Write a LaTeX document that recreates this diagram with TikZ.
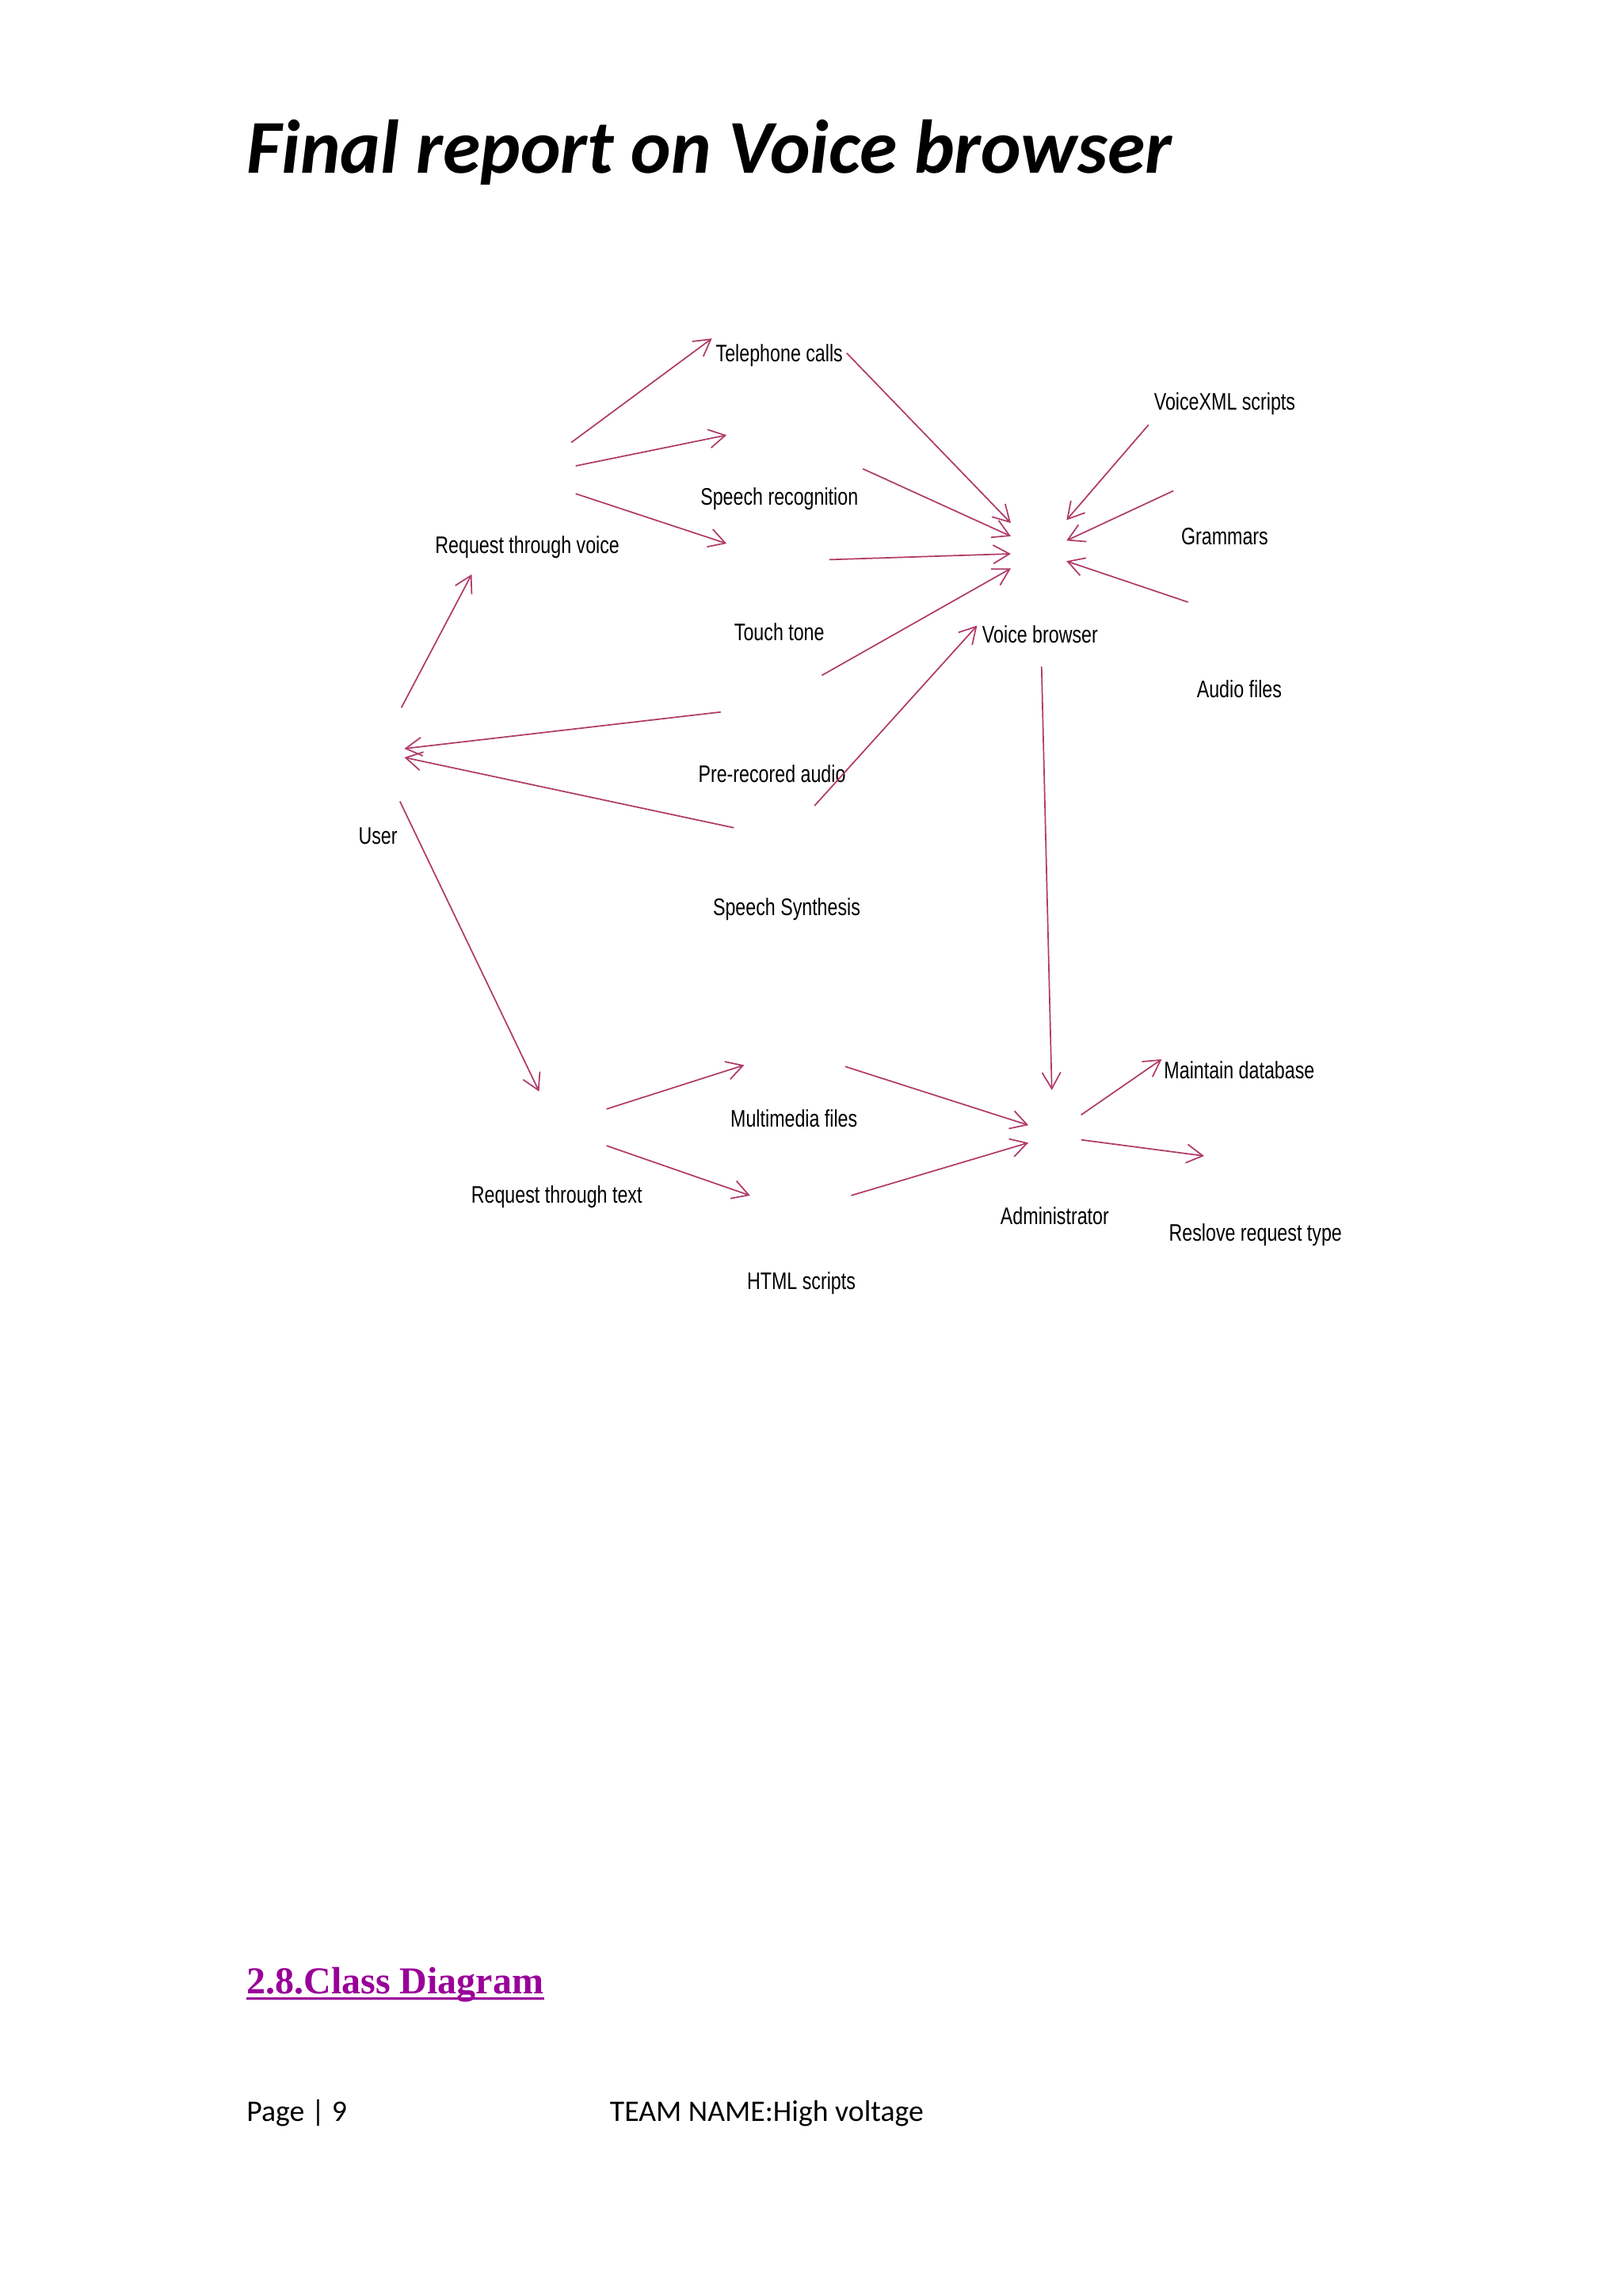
\documentclass[tikz,border=0pt]{standalone}
\usepackage{fontspec}
\usetikzlibrary{arrows.meta}
\newfontfamily\labelfont[FakeStretch=0.77]{Liberation Sans}
\newfontfamily\pagefont{Carlito}
\newfontfamily\headfont{Liberation Serif}
\definecolor{flowred}{RGB}{176,58,104}
\definecolor{headpurple}{RGB}{153,0,153}
\tikzset{
  lbl/.style={inner sep=0pt, anchor=base, font=\labelfont\fontsize{8.8}{10}\selectfont},
  flow/.style={draw=flowred, line width=0.5pt, -{Straight Barb[length=2.1mm, width=2.4mm]}},
}

\begin{document}
\begin{tikzpicture}[x=0.018948cm, y=-0.018948cm]
  \fill[white] (0,0) rectangle (21cm,-29.7cm);
  \useasboundingbox (0,0) rectangle (21cm,-29.7cm);

  % page texts
  \node[inner sep=0pt, anchor=base west, font=\pagefont\bfseries\itshape\fontsize{28}{32}\selectfont] (title) at (168,118) {Final report on Voice browser};
  \node[inner sep=0pt, anchor=base west, text=headpurple, font=\headfont\bfseries\fontsize{14}{16}\selectfont] (head) at (168,1361) {2.8.Class Diagram};
  \draw[headpurple, line width=1pt] ([yshift=-1.6pt]head.base west) -- ([yshift=-1.6pt]head.base east);
  \node[inner sep=0pt, anchor=base west, font=\pagefont\fontsize{11}{13}\selectfont] (page) at (168,1448) {Page | 9};
  \node[inner sep=0pt, anchor=base west, font=\pagefont\fontsize{11}{13}\selectfont] (team) at (416,1448) {TEAM NAME:High voltage};

  % labels
  \node[lbl] (tel) at (532,247) {Telephone calls};
  \node[lbl] (vxml) at (836,280) {VoiceXML scripts};
  \node[lbl] (sprec) at (532,345) {Speech recognition};
  \node[lbl] (rtv) at (360,378) {Request through voice};
  \node[lbl] (gram) at (836,372) {Grammars};
  \node[lbl] (touch) at (532,437) {Touch tone};
  \node[lbl] (vb) at (710,439) {Voice browser};
  \node[lbl] (audio) at (846,476) {Audio files};
  \node[lbl] (prerec) at (527,534) {Pre-recored audio};
  \node[lbl] (user) at (258,576) {User};
  \node[lbl] (synth) at (537,625) {Speech Synthesis};
  \node[lbl] (maint) at (846,736) {Maintain database};
  \node[lbl] (mmf) at (542,769) {Multimedia files};
  \node[lbl] (rtt) at (380,821) {Request through text};
  \node[lbl] (admin) at (720,836) {Administrator};
  \node[lbl] (resolve) at (857,847) {Reslove request type};
  \node[lbl] (html) at (547,880) {HTML scripts};

  % free ends of the connectors
  \coordinate (rtv1) at (390,302);  \coordinate (tel-in) at (486,231);
  \coordinate (rtv2) at (393,318);  \coordinate (sprec-in) at (496,297);
  \coordinate (rtv3) at (393,337);  \coordinate (touch-in) at (496,371);
  \coordinate (user-up) at (274,483); \coordinate (rtv-in) at (322,392);
  \coordinate (tel-out) at (578,241);   \coordinate (vb1) at (690,357);
  \coordinate (sprec-out) at (589,320); \coordinate (vb2) at (690,366);
  \coordinate (touch-out) at (566,382); \coordinate (vb3) at (690,378);
  \coordinate (synth-out) at (561,461); \coordinate (vb4) at (690,388);
  \coordinate (prerec-out) at (556,550); \coordinate (vb5) at (667,427);
  \coordinate (vxml-out) at (784,290);  \coordinate (vb6) at (728,355);
  \coordinate (gram-out) at (801,335);  \coordinate (vb7) at (728,369);
  \coordinate (audio-out) at (811,411); \coordinate (vb8) at (728,383);
  \coordinate (vb-out1) at (492,486);   \coordinate (user1) at (276,511);
  \coordinate (vb-out2) at (501,565);   \coordinate (user2) at (276,517);
  \coordinate (user-down) at (273,547); \coordinate (rtt-in) at (368,745);
  \coordinate (vb-down) at (711,455);   \coordinate (admin-in) at (718,744);
  \coordinate (rtt1) at (414,757);      \coordinate (mmf-in) at (508,727);
  \coordinate (rtt2) at (414,782);      \coordinate (html-in) at (512,816);
  \coordinate (mmf-out) at (577,728);   \coordinate (admin1) at (702,768);
  \coordinate (html-out) at (581,816);  \coordinate (admin2) at (702,780);
  \coordinate (admin3) at (738,761);    \coordinate (maint-in) at (793,723);
  \coordinate (admin4) at (738,778);    \coordinate (resolve-in) at (822,789);

  % connectors
  \draw[flow] (rtv1) -- (tel-in);
  \draw[flow] (rtv2) -- (sprec-in);
  \draw[flow] (rtv3) -- (touch-in);
  \draw[flow] (user-up) -- (rtv-in);
  \draw[flow] (tel-out) -- (vb1);
  \draw[flow] (sprec-out) -- (vb2);
  \draw[flow] (touch-out) -- (vb3);
  \draw[flow] (synth-out) -- (vb4);
  \draw[flow] (prerec-out) -- (vb5);
  \draw[flow] (vxml-out) -- (vb6);
  \draw[flow] (gram-out) -- (vb7);
  \draw[flow] (audio-out) -- (vb8);
  \draw[flow] (vb-out1) -- (user1);
  \draw[flow] (vb-out2) -- (user2);
  \draw[flow] (user-down) -- (rtt-in);
  \draw[flow] (vb-down) -- (admin-in);
  \draw[flow] (rtt1) -- (mmf-in);
  \draw[flow] (rtt2) -- (html-in);
  \draw[flow] (mmf-out) -- (admin1);
  \draw[flow] (html-out) -- (admin2);
  \draw[flow] (admin3) -- (maint-in);
  \draw[flow] (admin4) -- (resolve-in);
\end{tikzpicture}
\end{document}
